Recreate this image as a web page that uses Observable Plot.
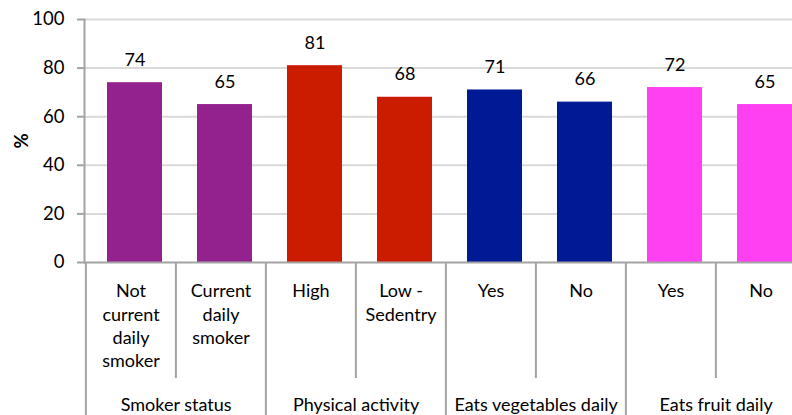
<!DOCTYPE html>
<html>
<head>
<meta charset="utf-8">
<script src="https://cdn.jsdelivr.net/npm/d3@7"></script>
<script src="https://cdn.jsdelivr.net/npm/@observablehq/plot@0.6"></script>
<style>
  html, body { margin: 0; padding: 0; background: #fff; overflow: hidden; }
  #chart svg { overflow: hidden; }
</style>
</head>
<body>
<div id="chart"></div>
<script>
// Data
const categories = ["Not\ncurrent\ndaily\nsmoker", "Current\ndaily\nsmoker", "High", "Low -\nSedentry", "Yes", "No", "Yes", "No"];
const groups = ["Smoker status", "Smoker status", "Physical activity", "Physical activity", "Eats vegetables daily", "Eats vegetables daily", "Eats fruit daily", "Eats fruit daily"];
const values = [74, 65, 81, 68, 71, 66, 72, 65];
const groupColors = {"Smoker status": "#93228F", "Physical activity": "#CC1C00", "Eats vegetables daily": "#001994", "Eats fruit daily": "#FF40F2"};
const yTicks = [0, 20, 40, 60, 80, 100];

const keys = categories.map((c, i) => i + "|" + c);
const rows = keys.map((k, i) => ({key: k, label: categories[i], group: groups[i], value: values[i], idx: i}));
const groupNames = [...new Set(groups)];
const groupRows = groupNames.map(g => {
  const members = rows.filter(r => r.group === g);
  return {group: g, first: members[0].key, last: members[members.length - 1].key};
});

const W = 792, H = 415;
const mL = 84, mT = 19, mB = 153, mR = 0;
const xRange = [mL, 806];
const nBands = keys.length;
const step = (xRange[1] - xRange[0]) / nBands;
const frameH = H - mT - mB;
const font = "Lato, 'Open Sans', sans-serif";
const axisGray = "#a3a3a3";
const barShift = 4;

const chart = Plot.plot({
  width: W,
  height: H,
  marginLeft: mL,
  marginRight: mR,
  marginTop: mT,
  marginBottom: mB,
  style: {fontFamily: font, fontSize: "18px", color: "#000", background: "#fff", overflow: "hidden"},
  x: {domain: keys, range: xRange, paddingInner: 0.39, paddingOuter: 0.195, axis: null},
  y: {domain: [0, 100], ticks: yTicks, label: null, axis: null},
  color: {domain: groupNames, range: groupNames.map(g => groupColors[g])},
  marks: [
    Plot.ruleY(yTicks.filter(t => t > 0), {stroke: "#d9d9d9", strokeWidth: 2}),
    Plot.barY(rows, {x: "key", y: "value", fill: "group", dx: barShift}),
    Plot.text(rows, {x: "key", y: "value", text: d => String(d.value), lineAnchor: "bottom", dy: -17, dx: barShift, fontSize: 18, fill: "#000"}),
    // y axis
    Plot.axisY({ticks: yTicks, tickSize: 7, tickPadding: 13, stroke: axisGray, strokeWidth: 2, fontSize: 18.5, fill: "#000",
      label: "%", labelAnchor: "center", labelArrow: "none", labelOffset: 70}),
    Plot.frame({anchor: "left", stroke: axisGray, strokeWidth: 2}),
    Plot.ruleY([0], {stroke: axisGray, strokeWidth: 2}),
    // inner dividers (between bars within a group)
    Plot.ruleX(rows.filter(r => r.idx % 2 === 1), {x: "key", dx: -step / 2, stroke: axisGray, strokeWidth: 2,
      insetTop: frameH, insetBottom: -116}),
    // group dividers
    Plot.ruleX(groupRows, {x: "first", dx: -step / 2, stroke: axisGray, strokeWidth: 2,
      insetTop: frameH, insetBottom: -mB}),
    // category labels
    Plot.text(rows, {x: "key", text: "label", frameAnchor: "bottom", lineAnchor: "top", dy: 18, lineHeight: 1.3, fontSize: 18, fill: "#000"}),
    // group labels
    Plot.text(groupRows, {x: "first", text: "group", frameAnchor: "bottom", lineAnchor: "top", dx: step / 2, dy: 136, fontSize: 18, fill: "#000"})
  ]
});
// make "%" label bold
chart.querySelectorAll("text").forEach(t => { if (t.textContent === "%") t.setAttribute("font-weight", "bold"); });
document.getElementById("chart").appendChild(chart);
</script>
</body>
</html>
